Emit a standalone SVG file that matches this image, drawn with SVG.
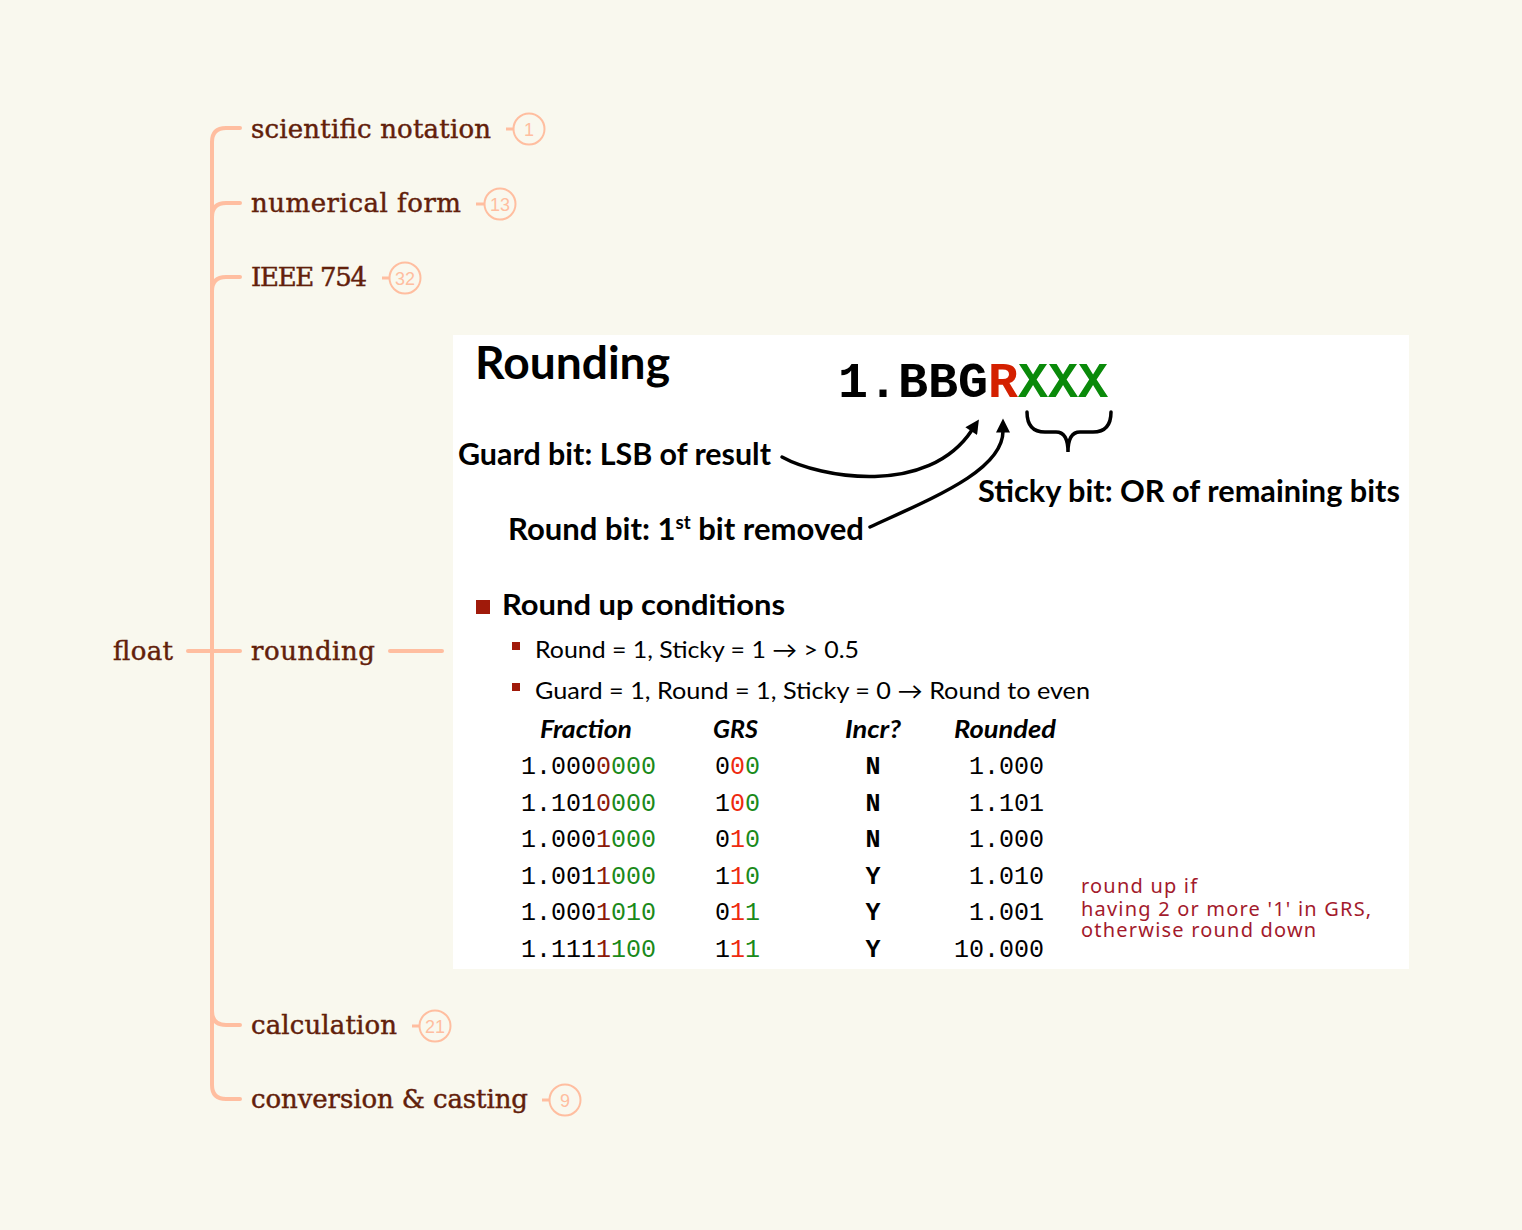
<svg xmlns="http://www.w3.org/2000/svg" width="1522" height="1230" viewBox="0 0 1522 1230">
<defs>
<style>
.node{font-family:"DejaVu Serif","Liberation Serif",serif;font-size:26px;fill:#62200a;stroke:#62200a;stroke-width:0.45}
.conn{fill:none;stroke:#ffbea0;stroke-width:4;stroke-linecap:round}
.badge circle{fill:none;stroke:#ffbea0;stroke-width:2}
.badge line{stroke:#ffbea0;stroke-width:3}
.badge text{font-family:"Liberation Sans",Arial,sans-serif;font-size:18px;fill:#ffbea0;text-anchor:middle}
.sb{font-family:Lato,"Liberation Sans",sans-serif;font-weight:bold;fill:#000}
.sr{font-family:Lato,"Liberation Sans",sans-serif;fill:#000;font-size:23px}
.hd{font-family:Lato,"Liberation Sans",sans-serif;font-weight:bold;font-style:italic;font-size:24px;fill:#000}
.mono{font-family:"Liberation Mono","Courier New",monospace;font-size:25px;fill:#000}
.g{fill:#1a8a1a}
.dr{fill:#8b1a0a}
.br{fill:#ee2a10}
.note{font-family:"Noto Sans","Liberation Sans",sans-serif;font-size:20px;letter-spacing:1.2px;fill:#a31a2c}
.ink{fill:none;stroke:#000;stroke-width:3.5;stroke-linecap:round}
</style>
<marker id="ah" viewBox="0 0 10 10" refX="1" refY="5" markerWidth="15" markerHeight="14" markerUnits="userSpaceOnUse" orient="auto">
<path d="M0 0 L10 5 L0 10 z" fill="#000"/>
</marker>
</defs>
<rect width="1522" height="1230" fill="#f9f8ee"/>

<g id="connectors">
<path class="conn" d="M240 128 H226 Q212 128 212 142 V1085 Q212 1099 226 1099 H240"/>
<path class="conn" d="M212 217 Q212 203 226 203 H240"/>
<path class="conn" d="M212 291 Q212 277 226 277 H240"/>
<path class="conn" d="M212 1011 Q212 1025 226 1025 H240"/>
<path class="conn" d="M188 651 H240"/>
<path class="conn" d="M390 651 H442"/>
</g>

<g id="node-float"><text class="node" x="113" y="660" textLength="60">float</text></g>

<g id="node-scientific-notation">
<text class="node" x="251" y="138" textLength="240">scientific notation</text>
<g class="badge"><line x1="506" y1="129" x2="513" y2="129"/><circle cx="529" cy="129" r="15.5"/><text x="529" y="135.5">1</text></g>
</g>

<g id="node-numerical-form">
<text class="node" x="251" y="212" textLength="210">numerical form</text>
<g class="badge"><line x1="476" y1="204" x2="484" y2="204"/><circle cx="500" cy="204" r="15.5"/><text x="500" y="210.5">13</text></g>
</g>

<g id="node-ieee-754">
<text class="node" x="251" y="286" textLength="116">IEEE 754</text>
<g class="badge"><line x1="382" y1="278" x2="389" y2="278"/><circle cx="405" cy="278" r="15.5"/><text x="405" y="284.5">32</text></g>
</g>

<g id="node-rounding">
<text class="node" x="251" y="660" textLength="124">rounding</text>
</g>

<g id="node-calculation">
<text class="node" x="251" y="1034" textLength="146">calculation</text>
<g class="badge"><line x1="412" y1="1026" x2="419" y2="1026"/><circle cx="435" cy="1026" r="15.5"/><text x="435" y="1032.5">21</text></g>
</g>

<g id="node-conversion-casting">
<text class="node" x="251" y="1108" textLength="277">conversion &amp; casting</text>
<g class="badge"><line x1="542" y1="1100" x2="549" y2="1100"/><circle cx="565" cy="1100" r="15.5"/><text x="565" y="1106.5">9</text></g>
</g>

<g id="rounding-panel">
<rect x="453" y="335" width="956" height="634" fill="#ffffff"/>
<text class="sb" x="475" y="379" font-size="45" textLength="195" lengthAdjust="spacingAndGlyphs">Rounding</text>
<text x="838" y="397" font-family="'Liberation Mono','Courier New',monospace" font-weight="bold" font-size="50" fill="#000">1.BBG<tspan fill="#d42000">R</tspan><tspan fill="#0a8a0a">XXX</tspan></text>

<path class="ink" d="M1027 412 Q1027 432 1045 432 L1056 432 Q1068 432 1068 452 Q1068 432 1080 432 L1093 432 Q1111 432 1111 412"/>
<path class="ink" d="M782 457 C820 478 928 497 972 430" marker-end="url(#ah)"/>
<path class="ink" d="M870 527 C935 497 1003 470 1003 431" marker-end="url(#ah)"/>

<text class="sb" x="458" y="465" font-size="30" textLength="313" lengthAdjust="spacingAndGlyphs">Guard bit: LSB of result</text>
<text class="sb" x="508" y="540" font-size="30" textLength="356" lengthAdjust="spacingAndGlyphs">Round bit: 1<tspan font-size="18" dy="-11">st</tspan><tspan dy="11"> bit removed</tspan></text>
<text class="sb" x="978" y="502" font-size="30" textLength="422" lengthAdjust="spacingAndGlyphs">Sticky bit: OR of remaining bits</text>

<rect x="476" y="600" width="14" height="14" fill="#a01a0a"/>
<text class="sb" x="502" y="615" font-size="29" textLength="283" lengthAdjust="spacingAndGlyphs">Round up conditions</text>
<rect x="512" y="642" width="8" height="8" fill="#a01a0a"/>
<text class="sr" x="535" y="658" textLength="324" lengthAdjust="spacingAndGlyphs">Round = 1, Sticky = 1 → &gt; 0.5</text>
<rect x="512" y="683" width="8" height="8" fill="#a01a0a"/>
<text class="sr" x="535" y="699" textLength="555" lengthAdjust="spacingAndGlyphs">Guard = 1, Round = 1, Sticky = 0 → Round to even</text>

<text class="hd" x="540" y="738" textLength="92" lengthAdjust="spacingAndGlyphs">Fraction</text>
<text class="hd" x="713" y="738" textLength="45" lengthAdjust="spacingAndGlyphs">GRS</text>
<text class="hd" x="845" y="738" textLength="56" lengthAdjust="spacingAndGlyphs">Incr?</text>
<text class="hd" x="954" y="738" textLength="102" lengthAdjust="spacingAndGlyphs">Rounded</text>

<g class="mono">
<text x="521" y="774">1.000<tspan class="dr">0</tspan><tspan class="g">000</tspan></text>
<text x="521" y="811">1.101<tspan class="dr">0</tspan><tspan class="g">000</tspan></text>
<text x="521" y="847">1.000<tspan class="dr">1</tspan><tspan class="g">000</tspan></text>
<text x="521" y="884">1.001<tspan class="dr">1</tspan><tspan class="g">000</tspan></text>
<text x="521" y="920">1.000<tspan class="dr">1</tspan><tspan class="g">010</tspan></text>
<text x="521" y="957">1.111<tspan class="dr">1</tspan><tspan class="g">100</tspan></text>

<text x="715" y="774">0<tspan class="br">0</tspan><tspan class="g">0</tspan></text>
<text x="715" y="811">1<tspan class="br">0</tspan><tspan class="g">0</tspan></text>
<text x="715" y="847">0<tspan class="br">1</tspan><tspan class="g">0</tspan></text>
<text x="715" y="884">1<tspan class="br">1</tspan><tspan class="g">0</tspan></text>
<text x="715" y="920">0<tspan class="br">1</tspan><tspan class="g">1</tspan></text>
<text x="715" y="957">1<tspan class="br">1</tspan><tspan class="g">1</tspan></text>

<g font-weight="bold" text-anchor="middle">
<text x="873" y="774">N</text>
<text x="873" y="811">N</text>
<text x="873" y="847">N</text>
<text x="873" y="884">Y</text>
<text x="873" y="920">Y</text>
<text x="873" y="957">Y</text>
</g>

<g text-anchor="end">
<text x="1044" y="774">1.000</text>
<text x="1044" y="811">1.101</text>
<text x="1044" y="847">1.000</text>
<text x="1044" y="884">1.010</text>
<text x="1044" y="920">1.001</text>
<text x="1044" y="957">10.000</text>
</g>
</g>

<text class="note" x="1081" y="893">round up if<tspan x="1081" dy="23">having 2 or more '1' in GRS,</tspan><tspan x="1081" dy="21">otherwise round down</tspan></text>
</g>
</svg>
